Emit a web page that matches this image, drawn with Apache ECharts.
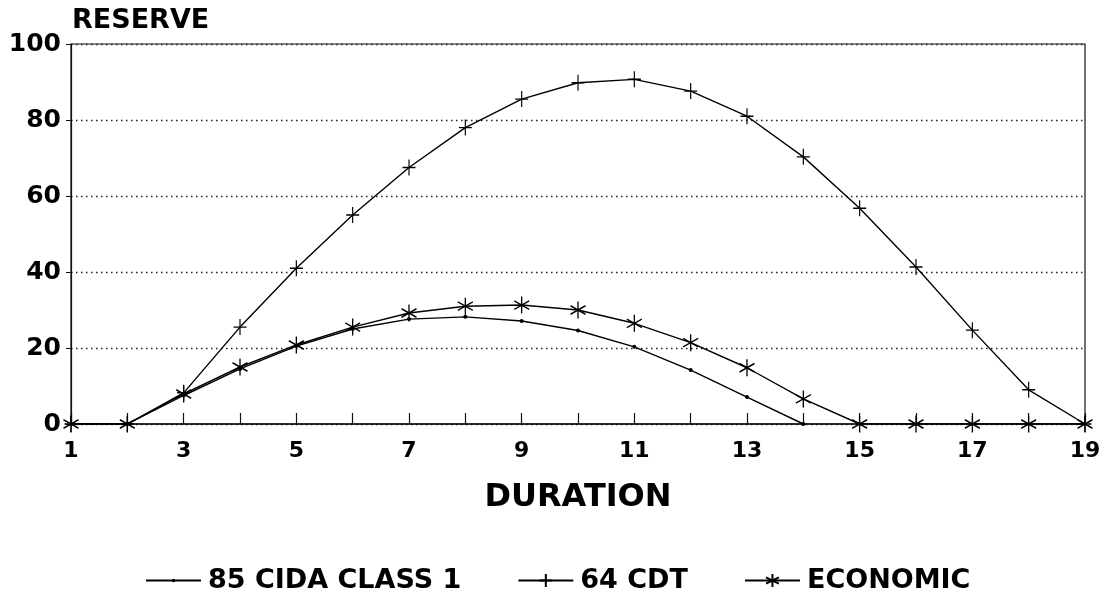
<!DOCTYPE html>
<html>
<head>
<meta charset="utf-8">
<script src="https://cdn.jsdelivr.net/npm/echarts@6/dist/echarts.min.js"></script>
<style>
  html, body { margin: 0; padding: 0; background: #fff; }
  #chart { width: 1107px; height: 597px; }
</style>
</head>
<body>
<div id="chart"></div>
<script>
// data
var duration = [1, 2, 3, 4, 5, 6, 7, 8, 9, 10, 11, 12, 13, 14, 15, 16, 17, 18, 19];
var cida = [null, 0, 7.5, 14.5, 20.5, 25, 27.6, 28.2, 27.1, 24.6, 20.3, 14.2, 7.1, 0, null, null, null, null, null];
var cdt = [0, 0, 8.2, 25.5, 41, 55, 67.5, 78, 85.5, 89.8, 90.7, 87.6, 81, 70.3, 56.8, 41.3, 24.7, 9, 0];
var economic = [0, 0, 7.9, 15, 20.8, 25.5, 29.2, 31, 31.3, 30, 26.5, 21.4, 14.8, 6.6, 0, 0, 0, 0, 0];
var seriesNames = ['85 CIDA CLASS 1', '64 CDT', 'ECONOMIC'];

var font = 'DejaVu Sans';

function pairs(values) {
    var out = [];
    for (var i = 0; i < duration.length; i++) {
        if (values[i] !== null) out.push([duration[i], values[i]]);
    }
    return out;
}

// small dot inside a bigger box so the legend dot stays small too
var dotPath = 'path://M-6,-6M6,6M-1.6,0A1.6,1.6,0,1,1,1.6,0A1.6,1.6,0,1,1,-1.6,0Z';
var plusPath = 'path://M0,-10L0,10M-8,0L8,0';
var starPath = 'path://M0,-10L0,10M-8.7,-5L8.7,5M-8.7,5L8.7,-5';

var chart = echarts.init(document.getElementById('chart'));

var option = {
    animation: false,
    title: {
        text: 'RESERVE',
        left: 67,
        top: 2,
        textStyle: { fontFamily: font, fontWeight: 'bold', fontSize: 27, color: '#000' }
    },
    grid: {
        left: 71,
        right: 22,
        top: 44,
        bottom: 173,
        show: true,
        borderColor: '#111',
        borderWidth: 1.2
    },
    legend: {
        left: 140,
        top: 562,
        itemWidth: 55,
        itemHeight: 16,
        itemGap: 56,
        textStyle: { fontFamily: font, fontWeight: 'bold', fontSize: 27, color: '#000', padding: [0, 0, 0, 2] },
        data: seriesNames
    },
    xAxis: {
        type: 'value',
        min: 1,
        max: 19,
        interval: 1,
        name: 'DURATION',
        nameLocation: 'middle',
        nameGap: 58,
        nameTextStyle: { fontFamily: font, fontWeight: 'bold', fontSize: 32, color: '#000' },
        axisLine: { lineStyle: { color: '#111', width: 1.5 } },
        axisTick: { show: true, inside: true, length: 11, lineStyle: { color: '#111', width: 1.2 } },
        axisLabel: {
            margin: 16,
            fontFamily: font, fontWeight: 'bold', fontSize: 22, color: '#000',
            formatter: function (v) { return v % 2 === 1 ? String(v) : ''; }
        },
        splitLine: { show: false }
    },
    yAxis: {
        type: 'value',
        min: 0,
        max: 100,
        interval: 20,
        axisLine: { show: true, lineStyle: { color: '#111', width: 1.2 } },
        axisTick: { show: true, length: 5, lineStyle: { color: '#111' } },
        axisLabel: { margin: 10, fontFamily: font, fontWeight: 'bold', fontSize: 25, color: '#000' },
        splitLine: { show: true, lineStyle: { color: '#222', type: [1.5, 3.5], width: 1.3 } }
    },
    series: [
        {
            name: seriesNames[0],
            type: 'line',
            data: pairs(cida),
            symbol: dotPath,
            symbolSize: 15,
            itemStyle: { color: '#000' },
            lineStyle: { color: '#000', width: 1.4 }
        },
        {
            name: seriesNames[1],
            type: 'line',
            data: pairs(cdt),
            symbol: plusPath,
            symbolSize: [13, 16],
            itemStyle: { color: 'none', borderColor: '#000', borderWidth: 1.3 },
            lineStyle: { color: '#000', width: 1.4 }
        },
        {
            name: seriesNames[2],
            type: 'line',
            data: pairs(economic),
            symbol: starPath,
            symbolSize: [15, 17],
            itemStyle: { color: 'none', borderColor: '#000', borderWidth: 1.4 },
            lineStyle: { color: '#000', width: 1.4 }
        }
    ]
};

chart.setOption(option);
</script>
</body>
</html>
